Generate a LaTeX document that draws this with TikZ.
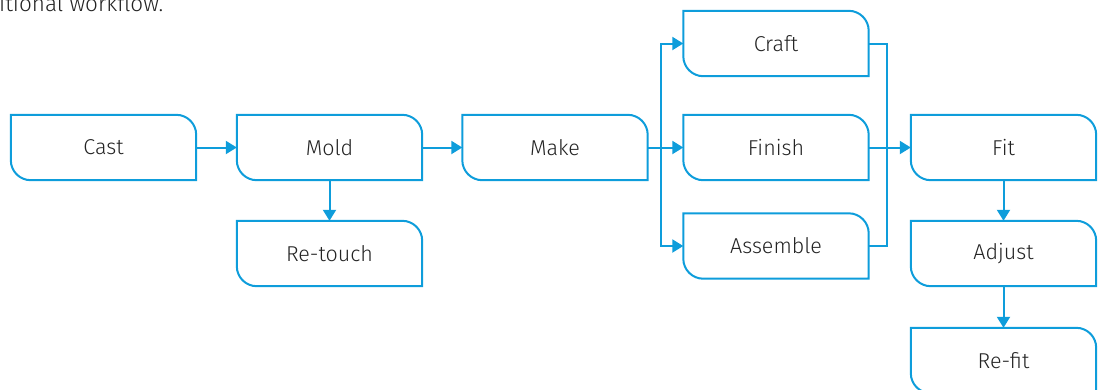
\documentclass[tikz,border=0pt]{standalone}
\usepackage{fontspec}
\setmainfont{Fira Sans}[UprightFont=* Light]
\usetikzlibrary{arrows.meta}
\definecolor{hpblue}{RGB}{14,157,219}
\definecolor{txt}{RGB}{35,35,35}
\begin{document}
\begin{tikzpicture}[x=1pt,y=-1pt,
  box/.style={rectangle,inner sep=0pt,minimum width=185pt,minimum height=65pt,text=txt,font=\fontsize{21.5}{24}\selectfont},
  link/.style={draw=hpblue,line width=2pt},
  arr/.style={link,-{Triangle[length=11pt,width=13pt]}}]
\useasboundingbox (0,0) rectangle (1104,389);
\node[anchor=base west,text=txt,font=\fontsize{22.5}{26}\selectfont,inner sep=0pt] (title) at (-1,11) {itional workflow.};
\node[box] (cast) at (103.5,147.5) {Cast};
\node[box] (mold) at (329.5,147.5) {Mold};
\node[box] (retouch) at (329.5,253.5) {Re-touch};
\node[box] (make) at (555,147.5) {Make};
\node[box] (craft) at (776,43.5) {Craft};
\node[box] (finish) at (776,147.5) {Finish};
\node[box] (assemble) at (776,246) {Assemble};
\node[box] (fit) at (1003.5,147.5) {Fit};
\node[box] (adjust) at (1003.5,253.5) {Adjust};
\node[box] (refit) at (1003.5,360.5) {Re-fit};
\foreach \n in {cast,mold,retouch,make,craft,finish,assemble,fit,adjust,refit}{
  \draw[link,line join=miter] (\n.north west) -- ([xshift=-20pt]\n.north east)
    arc[start angle=90,end angle=0,radius=20pt] -- (\n.south east)
    -- ([xshift=20pt]\n.south west) arc[start angle=270,end angle=180,radius=20pt] -- cycle;
}
\coordinate (lb) at (661,147.5);
\coordinate (rb) at (887,147.5);
\draw[arr] (cast.east) -- (mold.west);
\draw[arr] (mold.south) -- (retouch.north);
\draw[arr] (mold.east) -- (make.west);
\draw[arr] (make.east) -- (finish.west);
\draw[arr] (lb) |- (craft.west);
\draw[arr] (lb) |- (assemble.west);
\draw[link] (craft.east) -| (rb) |- (assemble.east);
\draw[arr] (finish.east) -- (fit.west);
\draw[arr] (fit.south) -- (adjust.north);
\draw[arr] (adjust.south) -- (refit.north);
\end{tikzpicture}
\end{document}
